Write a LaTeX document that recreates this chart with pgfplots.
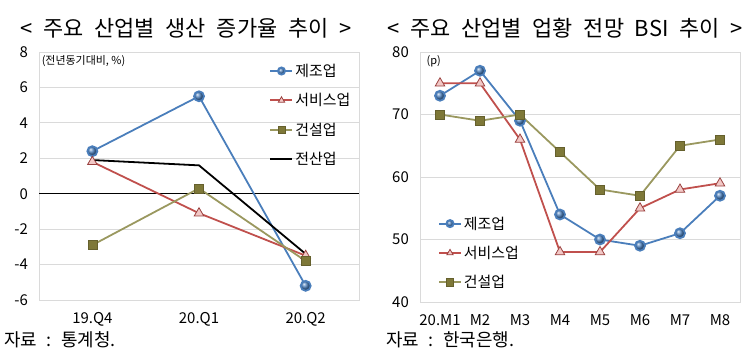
\documentclass[border=0pt]{standalone}
\usepackage{pgfplots}
\pgfplotsset{compat=1.18}
\usepackage{fontspec}
\setmainfont{Noto Sans CJK KR}
\newfontfamily\titlefont[WordSpace=2.6]{Noto Sans CJK KR}
\newfontfamily\srcfont[WordSpace=2.2]{Noto Sans CJK KR}
\definecolor{cblue}{HTML}{4A7EBB}
\definecolor{cred}{HTML}{C0504D}
\definecolor{cpink}{HTML}{F2C8C6}
\definecolor{colive}{HTML}{9A985F}
\definecolor{colivedk}{HTML}{7E7838}
\definecolor{cgrid}{HTML}{DADADA}
\pgfplotsset{
  common/.style={
    scale only axis, width=320bp,
    axis line style={cgrid}, ymajorgrids, grid style={cgrid, line width=0.8pt},
    major tick length=0pt,
    /pgf/number format/assume math mode=true,
    tick label style={font=\fontsize{15}{16}\selectfont},
    yticklabel style={anchor=east, inner sep=0pt, xshift=-11bp},
    xticklabel style={anchor=north, inner sep=0pt, yshift=-12bp},
    legend style={draw=none, fill=none, font=\fontsize{15}{17}\selectfont, row sep=11.5bp, inner sep=0pt, cells={anchor=west}},
    legend image code/.code={\draw[mark repeat=2,mark phase=2,##1] plot coordinates {(0bp,0bp) (11bp,0bp) (22bp,0bp)};},
    legend image post style={mark size=3.6bp},
    clip=false,
  },
  sManu/.style={cblue, line width=1.8pt, mark=ball, mark size=5bp, mark options={ball color=cblue}},
  sServ/.style={cred, line width=1.8pt, mark=triangle*, mark size=5.5bp, mark options={fill=cpink, draw=cred!80!black, line width=0.8pt}},
  sCons/.style={colive, line width=1.8pt, mark=square*, mark size=4.5bp, mark options={fill=colivedk, draw=colivedk!80!black, line width=0.6pt}},
}
\begin{document}
\begin{tikzpicture}
\path[use as bounding box] (0bp,0bp) rectangle (750bp,357bp);
\node[font=\titlefont\fontsize{22}{25}\selectfont] at (186bp,329bp) {< 주요 산업별 생산 증가율 추이 >};
\node[font=\titlefont\fontsize{22}{25}\selectfont] at (565bp,329bp) {< 주요 산업별 업황 전망 BSI 추이 >};
\node[font=\srcfont\fontsize{18}{20}\selectfont, anchor=west, inner sep=0pt] at (4bp,17bp) {자료 : 통계청.};
\node[font=\srcfont\fontsize{18}{20}\selectfont, anchor=west, inner sep=0pt] at (386bp,17bp) {자료 : 한국은행.};

\begin{axis}[common, at={(39bp,57bp)}, anchor=south west, height=248bp,
  xmin=-0.5, xmax=2.5, ymin=-6, ymax=8,
  xtick={0,1,2}, xticklabels={19.Q4,20.Q1,20.Q2},
  ytick={-6,-4,-2,0,2,4,6,8},
  legend style={at={(rel axis cs:0.72,0.96)}, anchor=north west},
]
\draw[black, line width=1.4pt] (axis cs:-0.5,0) -- (axis cs:2.5,0);
\node[anchor=north west, inner sep=0pt, font=\fontsize{11}{13}\selectfont] at (rel axis cs:0.008,0.985) {(전년동기대비, \%)};
\addplot[sManu] coordinates {(0,2.4) (1,5.5) (2,-5.2)};
\addlegendentry{제조업}
\addplot[sServ] coordinates {(0,1.8) (1,-1.1) (2,-3.5)};
\addlegendentry{서비스업}
\addplot[sCons] coordinates {(0,-2.9) (1,0.3) (2,-3.8)};
\addlegendentry{건설업}
\addplot[black, line width=1.8pt] coordinates {(0,1.9) (1,1.6) (2,-3.4)};
\addlegendentry{전산업}
\end{axis}

\begin{axis}[common, at={(420bp,55bp)}, anchor=south west, height=250bp,
  xmin=-0.5, xmax=7.5, ymin=40, ymax=80,
  xtick={0,...,7}, xticklabels={20.M1,M2,M3,M4,M5,M6,M7,M8},
  ytick={40,50,60,70,80},
  legend style={at={(rel axis cs:0.056,0.35)}, anchor=north west},
]
\node[anchor=north west, inner sep=0pt, font=\fontsize{11}{13}\selectfont] at (rel axis cs:0.02,0.985) {(p)};
\addplot[sManu] coordinates {(0,73) (1,77) (2,69) (3,54) (4,50) (5,49) (6,51) (7,57)};
\addlegendentry{제조업}
\addplot[sServ] coordinates {(0,75) (1,75) (2,66) (3,48) (4,48) (5,55) (6,58) (7,59)};
\addlegendentry{서비스업}
\addplot[sCons] coordinates {(0,70) (1,69) (2,70) (3,64) (4,58) (5,57) (6,65) (7,66)};
\addlegendentry{건설업}
\end{axis}
\end{tikzpicture}
\end{document}
